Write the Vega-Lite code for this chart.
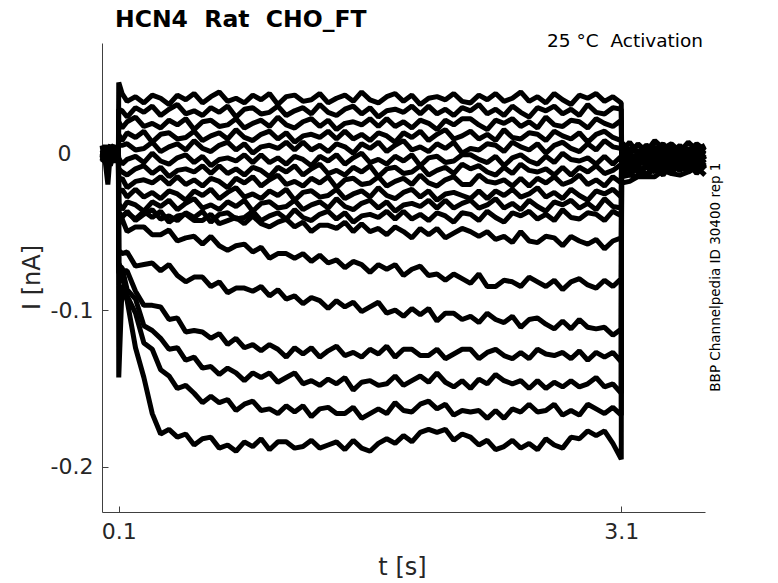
{
"$schema":"https://vega.github.io/schema/vega-lite/v6.json",
"width":603,"height":469,
"autosize":{"type":"none"},
"padding":{"left":102,"top":43,"right":73,"bottom":71},
"background":"white",
"config":{"view":{"stroke":null},"font":"DejaVu Sans"},
"title":{"text":"HCN4\u00a0\u00a0Rat\u00a0\u00a0CHO_FT","anchor":"start","frame":"group","dx":13,"dy":33,"offset":15,"fontSize":23.5,"fontWeight":"bold","font":"DejaVu Sans","color":"black","baseline":"alphabetic"},
"layer":[
{
"data":{"values":[
{"t":0,"a":0.002,"b":-0.003,"c":0.004,"d":-0.001,"e":0,"f":0.003,"g":-0.005,"h":0.001,"i":-0.002,"j":0.005,"k":-0.004,"l":0.002,"m":0,"n":-0.006,"o":0.003,"p":-0.001,"q":0.001,"r":-0.003},
{"t":0.02,"a":-0.003,"b":0.004,"c":-0.001,"d":0.002,"e":-0.005,"f":0.001,"g":0.003,"h":-0.002,"i":0.005,"j":-0.004,"k":0,"l":-0.001,"m":0.004,"n":-0.003,"o":0.002,"p":-0.006,"q":-0.002,"r":0.003},
{"t":0.035,"a":0.004,"b":-0.002,"c":0.001,"d":-0.006,"e":0.003,"f":-0.001,"g":-0.003,"h":0.005,"i":-0.004,"j":0.002,"k":-0.005,"l":0.003,"m":-0.014,"n":0.001,"o":-0.002,"p":-0.02,"q":0.004,"r":-0.001},
{"t":0.05,"a":-0.001,"b":0.003,"c":-0.004,"d":0.002,"e":0.005,"f":-0.003,"g":0.001,"h":-0.005,"i":0,"j":-0.002,"k":0.004,"l":-0.006,"m":0.002,"n":-0.008,"o":0.003,"p":0.001,"q":-0.004,"r":0.002},
{"t":0.07,"a":0.003,"b":-0.004,"c":0.002,"d":-0.001,"e":-0.003,"f":0.004,"g":-0.002,"h":0.001,"i":-0.005,"j":0.003,"k":-0.001,"l":0.002,"m":-0.004,"n":0,"o":0.005,"p":-0.003,"q":0.001,"r":-0.006},
{"t":0.085,"a":-0.002,"b":0.001,"c":-0.003,"d":0.004,"e":0,"f":-0.005,"g":0.003,"h":-0.001,"i":0.002,"j":-0.004,"k":0.005,"l":-0.002,"m":0.001,"n":0.003,"o":-0.006,"p":0.002,"q":-0.001,"r":0.004},
{"t":0.098,"a":0.001,"b":-0.002,"c":0.003,"d":-0.003,"e":0.002,"f":0,"g":-0.004,"h":0.004,"i":-0.001,"j":0.001,"k":-0.003,"l":0.005,"m":-0.002,"n":-0.001,"o":0.002,"p":-0.005,"q":0.003,"r":-0.002},
{"t":0.1,"a":0.045,"b":0.028,"c":0.02,"d":0.012,"e":0.005,"f":-0.003,"g":-0.01,"h":-0.017,"i":-0.025,"j":-0.032,"k":-0.038,"l":-0.038,"m":-0.045,"n":-0.062,"o":-0.07,"p":-0.072,"q":-0.076,"r":-0.143},
{"t":0.12,"a":0.038,"b":0.027,"c":0.016,"d":0.008,"e":0.005,"f":-0.007,"g":-0.012,"h":-0.016,"i":-0.023,"j":-0.036,"k":-0.041,"l":-0.04,"m":-0.042,"n":-0.064,"o":-0.075,"p":-0.073,"q":-0.079,"r":-0.084},
{"t":0.15,"a":0.033,"b":0.023,"c":0.02,"d":0.013,"e":0.006,"f":-0.004,"g":-0.014,"h":-0.022,"i":-0.028,"j":-0.031,"k":-0.037,"l":-0.038,"m":-0.05,"n":-0.063,"o":-0.075,"p":-0.087,"q":-0.091,"r":-0.094},
{"t":0.2,"a":0.036,"b":0.029,"c":0.023,"d":0.01,"e":0.002,"f":-0.002,"g":-0.01,"h":-0.018,"i":-0.023,"j":-0.033,"k":-0.043,"l":-0.042,"m":-0.047,"n":-0.072,"o":-0.088,"p":-0.093,"q":-0.102,"r":-0.124},
{"t":0.25,"a":0.032,"b":0.026,"c":0.017,"d":0.014,"e":0.003,"f":-0.006,"g":-0.008,"h":-0.017,"i":-0.028,"j":-0.037,"k":-0.039,"l":-0.037,"m":-0.047,"n":-0.071,"o":-0.097,"p":-0.11,"q":-0.121,"r":-0.143},
{"t":0.3,"a":0.037,"b":0.03,"c":0.019,"d":0.007,"e":0.007,"f":0,"g":-0.013,"h":-0.019,"i":-0.025,"j":-0.031,"k":-0.036,"l":-0.041,"m":-0.052,"n":-0.07,"o":-0.097,"p":-0.113,"q":-0.125,"r":-0.166},
{"t":0.35,"a":0.035,"b":0.024,"c":0.016,"d":0.012,"e":0.001,"f":-0.005,"g":-0.009,"h":-0.015,"i":-0.029,"j":-0.034,"k":-0.042,"l":-0.037,"m":-0.052,"n":-0.075,"o":-0.098,"p":-0.118,"q":-0.138,"r":-0.179},
{"t":0.4,"a":0.031,"b":0.028,"c":0.021,"d":0.013,"e":0.004,"f":-0.007,"g":-0.015,"h":-0.02,"i":-0.024,"j":-0.03,"k":-0.04,"l":-0.044,"m":-0.049,"n":-0.071,"o":-0.106,"p":-0.125,"q":-0.142,"r":-0.176},
{"t":0.45,"a":0.037,"b":0.031,"c":0.018,"d":0.009,"e":0.006,"f":-0.003,"g":-0.011,"h":-0.015,"i":-0.026,"j":-0.036,"k":-0.043,"l":-0.04,"m":-0.056,"n":-0.078,"o":-0.105,"p":-0.124,"q":-0.15,"r":-0.181},
{"t":0.5,"a":0.034,"b":0.025,"c":0.022,"d":0.01,"e":0.002,"f":-0.001,"g":-0.01,"h":-0.02,"i":-0.03,"j":-0.032,"k":-0.038,"l":-0.039,"m":-0.054,"n":-0.082,"o":-0.114,"p":-0.132,"q":-0.148,"r":-0.179},
{"t":0.55,"a":0.038,"b":0.027,"c":0.015,"d":0.014,"e":0.008,"f":-0.006,"g":-0.012,"h":-0.017,"i":-0.024,"j":-0.029,"k":-0.041,"l":-0.043,"m":-0.053,"n":-0.079,"o":-0.113,"p":-0.13,"q":-0.153,"r":-0.186},
{"t":0.6,"a":0.032,"b":0.024,"c":0.02,"d":0.008,"e":0.003,"f":-0.002,"g":-0.008,"h":-0.021,"i":-0.027,"j":-0.035,"k":-0.037,"l":-0.043,"m":-0.058,"n":-0.079,"o":-0.114,"p":-0.137,"q":-0.159,"r":-0.182},
{"t":0.65,"a":0.036,"b":0.029,"c":0.021,"d":0.011,"e":0.001,"f":-0.008,"g":-0.013,"h":-0.016,"i":-0.023,"j":-0.033,"k":-0.044,"l":-0.039,"m":-0.053,"n":-0.085,"o":-0.118,"p":-0.136,"q":-0.155,"r":-0.181},
{"t":0.7,"a":0.039,"b":0.026,"c":0.017,"d":0.013,"e":0.005,"f":-0.004,"g":-0.008,"h":-0.018,"i":-0.029,"j":-0.036,"k":-0.039,"l":-0.045,"m":-0.059,"n":-0.082,"o":-0.115,"p":-0.141,"q":-0.159,"r":-0.188},
{"t":0.75,"a":0.033,"b":0.03,"c":0.018,"d":0.009,"e":0.007,"f":-0.003,"g":-0.013,"h":-0.022,"i":-0.025,"j":-0.031,"k":-0.038,"l":-0.043,"m":-0.062,"n":-0.089,"o":-0.122,"p":-0.137,"q":-0.157,"r":-0.186},
{"t":0.8,"a":0.035,"b":0.023,"c":0.022,"d":0.015,"e":0.002,"f":-0.005,"g":-0.01,"h":-0.016,"i":-0.022,"j":-0.034,"k":-0.042,"l":-0.041,"m":-0.059,"n":-0.086,"o":-0.118,"p":-0.14,"q":-0.164,"r":-0.19},
{"t":0.85,"a":0.032,"b":0.028,"c":0.016,"d":0.01,"e":0.006,"f":-0.001,"g":-0.014,"h":-0.019,"i":-0.028,"j":-0.03,"k":-0.041,"l":-0.045,"m":-0.058,"n":-0.086,"o":-0.124,"p":-0.145,"q":-0.16,"r":-0.184},
{"t":0.9,"a":0.037,"b":0.029,"c":0.019,"d":0.008,"e":0,"f":-0.006,"g":-0.009,"h":-0.015,"i":-0.026,"j":-0.037,"k":-0.037,"l":-0.04,"m":-0.063,"n":-0.088,"o":-0.122,"p":-0.14,"q":-0.158,"r":-0.187},
{"t":0.95,"a":0.034,"b":0.025,"c":0.021,"d":0.012,"e":0.004,"f":-0.001,"g":-0.011,"h":-0.021,"i":-0.029,"j":-0.032,"k":-0.043,"l":-0.045,"m":-0.06,"n":-0.085,"o":-0.126,"p":-0.143,"q":-0.164,"r":-0.182},
{"t":1.0,"a":0.038,"b":0.026,"c":0.017,"d":0.014,"e":0.005,"f":-0.006,"g":-0.015,"h":-0.017,"i":-0.024,"j":-0.031,"k":-0.04,"l":-0.047,"m":-0.067,"n":-0.091,"o":-0.122,"p":-0.14,"q":-0.163,"r":-0.189},
{"t":1.05,"a":0.031,"b":0.03,"c":0.023,"d":0.009,"e":0.003,"f":-0.003,"g":-0.009,"h":-0.014,"i":-0.027,"j":-0.035,"k":-0.038,"l":-0.044,"m":-0.064,"n":-0.087,"o":-0.125,"p":-0.146,"q":-0.166,"r":-0.184},
{"t":1.1,"a":0.036,"b":0.024,"c":0.018,"d":0.013,"e":0.007,"f":-0.007,"g":-0.012,"h":-0.02,"i":-0.023,"j":-0.034,"k":-0.042,"l":-0.042,"m":-0.064,"n":-0.093,"o":-0.13,"p":-0.143,"q":-0.161,"r":-0.184},
{"t":1.15,"a":0.037,"b":0.027,"c":0.016,"d":0.007,"e":0.002,"f":-0.002,"g":-0.008,"h":-0.018,"i":-0.03,"j":-0.03,"k":-0.036,"l":-0.047,"m":-0.067,"n":-0.091,"o":-0.124,"p":-0.14,"q":-0.165,"r":-0.188},
{"t":1.2,"a":0.033,"b":0.029,"c":0.02,"d":0.011,"e":0.007,"f":-0.004,"g":-0.014,"h":-0.021,"i":-0.025,"j":-0.036,"k":-0.041,"l":-0.044,"m":-0.064,"n":-0.096,"o":-0.128,"p":-0.147,"q":-0.161,"r":-0.187},
{"t":1.25,"a":0.034,"b":0.025,"c":0.022,"d":0.012,"e":0.002,"f":-0.008,"g":-0.01,"h":-0.016,"i":-0.024,"j":-0.033,"k":-0.043,"l":-0.05,"m":-0.069,"n":-0.092,"o":-0.124,"p":-0.145,"q":-0.168,"r":-0.183},
{"t":1.3,"a":0.038,"b":0.031,"c":0.017,"d":0.01,"e":0.005,"f":-0.002,"g":-0.007,"h":-0.019,"i":-0.028,"j":-0.031,"k":-0.039,"l":-0.046,"m":-0.065,"n":-0.094,"o":-0.13,"p":-0.148,"q":-0.163,"r":-0.188},
{"t":1.35,"a":0.032,"b":0.026,"c":0.021,"d":0.014,"e":0.001,"f":-0.005,"g":-0.013,"h":-0.015,"i":-0.027,"j":-0.035,"k":-0.037,"l":-0.046,"m":-0.07,"n":-0.099,"o":-0.126,"p":-0.144,"q":-0.162,"r":-0.186},
{"t":1.4,"a":0.035,"b":0.024,"c":0.015,"d":0.009,"e":0.006,"f":-0.001,"g":-0.011,"h":-0.022,"i":-0.023,"j":-0.029,"k":-0.042,"l":-0.048,"m":-0.068,"n":-0.094,"o":-0.123,"p":-0.147,"q":-0.166,"r":-0.184},
{"t":1.45,"a":0.037,"b":0.028,"c":0.019,"d":0.014,"e":0.004,"f":-0.007,"g":-0.014,"h":-0.017,"i":-0.029,"j":-0.034,"k":-0.038,"l":-0.044,"m":-0.073,"n":-0.098,"o":-0.129,"p":-0.143,"q":-0.166,"r":-0.189},
{"t":1.5,"a":0.033,"b":0.03,"c":0.02,"d":0.009,"e":0,"f":-0.003,"g":-0.009,"h":-0.016,"i":-0.026,"j":-0.036,"k":-0.044,"l":-0.05,"m":-0.069,"n":-0.095,"o":-0.127,"p":-0.151,"q":-0.162,"r":-0.183},
{"t":1.55,"a":0.039,"b":0.025,"c":0.018,"d":0.012,"e":0.006,"f":0,"g":-0.012,"h":-0.02,"i":-0.024,"j":-0.032,"k":-0.04,"l":-0.045,"m":-0.071,"n":-0.101,"o":-0.13,"p":-0.146,"q":-0.169,"r":-0.188},
{"t":1.6,"a":0.034,"b":0.029,"c":0.022,"d":0.008,"e":0.003,"f":-0.006,"g":-0.008,"h":-0.019,"i":-0.028,"j":-0.03,"k":-0.039,"l":-0.05,"m":-0.076,"n":-0.098,"o":-0.125,"p":-0.145,"q":-0.166,"r":-0.19},
{"t":1.65,"a":0.032,"b":0.023,"c":0.017,"d":0.013,"e":0.007,"f":-0.004,"g":-0.015,"h":-0.015,"i":-0.022,"j":-0.035,"k":-0.041,"l":-0.048,"m":-0.071,"n":-0.095,"o":-0.128,"p":-0.148,"q":-0.163,"r":-0.185},
{"t":1.7,"a":0.036,"b":0.027,"c":0.022,"d":0.011,"e":0.001,"f":-0.007,"g":-0.01,"h":-0.021,"i":-0.027,"j":-0.031,"k":-0.037,"l":-0.052,"m":-0.074,"n":-0.102,"o":-0.123,"p":-0.147,"q":-0.166,"r":-0.182},
{"t":1.75,"a":0.038,"b":0.028,"c":0.017,"d":0.007,"e":0.005,"f":-0.002,"g":-0.009,"h":-0.018,"i":-0.029,"j":-0.037,"k":-0.042,"l":-0.047,"m":-0.071,"n":-0.1,"o":-0.13,"p":-0.142,"q":-0.159,"r":-0.185},
{"t":1.8,"a":0.033,"b":0.026,"c":0.02,"d":0.013,"e":0.008,"f":-0.005,"g":-0.013,"h":-0.016,"i":-0.025,"j":-0.033,"k":-0.037,"l":-0.05,"m":-0.078,"n":-0.104,"o":-0.125,"p":-0.148,"q":-0.164,"r":-0.18},
{"t":1.85,"a":0.037,"b":0.03,"c":0.016,"d":0.01,"e":0.002,"f":-0.001,"g":-0.012,"h":-0.02,"i":-0.023,"j":-0.032,"k":-0.042,"l":-0.054,"m":-0.074,"n":-0.099,"o":-0.125,"p":-0.145,"q":-0.165,"r":-0.184},
{"t":1.9,"a":0.031,"b":0.025,"c":0.021,"d":0.014,"e":0.004,"f":-0.008,"g":-0.008,"h":-0.014,"i":-0.028,"j":-0.034,"k":-0.039,"l":-0.048,"m":-0.072,"n":-0.103,"o":-0.129,"p":-0.142,"q":-0.16,"r":-0.178},
{"t":1.95,"a":0.035,"b":0.03,"c":0.019,"d":0.008,"e":0.001,"f":-0.003,"g":-0.014,"h":-0.019,"i":-0.024,"j":-0.03,"k":-0.043,"l":-0.052,"m":-0.078,"n":-0.099,"o":-0.129,"p":-0.146,"q":-0.158,"r":-0.176},
{"t":2.0,"a":0.036,"b":0.025,"c":0.015,"d":0.012,"e":0.006,"f":-0.002,"g":-0.011,"h":-0.021,"i":-0.03,"j":-0.035,"k":-0.038,"l":-0.048,"m":-0.077,"n":-0.107,"o":-0.125,"p":-0.14,"q":-0.163,"r":-0.178},
{"t":2.05,"a":0.034,"b":0.028,"c":0.021,"d":0.015,"e":0.003,"f":-0.006,"g":-0.009,"h":-0.017,"i":-0.026,"j":-0.03,"k":-0.04,"l":-0.054,"m":-0.081,"n":-0.102,"o":-0.131,"p":-0.146,"q":-0.16,"r":-0.176},
{"t":2.1,"a":0.038,"b":0.024,"c":0.018,"d":0.009,"e":0.007,"f":-0.005,"g":-0.013,"h":-0.015,"i":-0.025,"j":-0.035,"k":-0.044,"l":-0.051,"m":-0.077,"n":-0.102,"o":-0.128,"p":-0.149,"q":-0.167,"r":-0.183},
{"t":2.15,"a":0.033,"b":0.029,"c":0.022,"d":0.011,"e":0,"f":-0.001,"g":-0.007,"h":-0.02,"i":-0.027,"j":-0.032,"k":-0.038,"l":-0.048,"m":-0.08,"n":-0.106,"o":-0.125,"p":-0.145,"q":-0.164,"r":-0.179},
{"t":2.2,"a":0.032,"b":0.027,"c":0.022,"d":0.014,"e":0.003,"f":-0.001,"g":-0.01,"h":-0.02,"i":-0.029,"j":-0.03,"k":-0.039,"l":-0.05,"m":-0.083,"n":-0.104,"o":-0.125,"p":-0.15,"q":-0.165,"r":-0.181},
{"t":2.25,"a":0.037,"b":0.031,"c":0.018,"d":0.009,"e":0.002,"f":-0.004,"g":-0.008,"h":-0.014,"i":-0.024,"j":-0.035,"k":-0.043,"l":-0.053,"m":-0.077,"n":-0.108,"o":-0.131,"p":-0.144,"q":-0.164,"r":-0.186},
{"t":2.3,"a":0.034,"b":0.025,"c":0.015,"d":0.012,"e":0.006,"f":-0.006,"g":-0.012,"h":-0.018,"i":-0.029,"j":-0.033,"k":-0.037,"l":-0.05,"m":-0.085,"n":-0.102,"o":-0.127,"p":-0.147,"q":-0.169,"r":-0.183},
{"t":2.35,"a":0.038,"b":0.028,"c":0.021,"d":0.008,"e":0.005,"f":-0.002,"g":-0.014,"h":-0.019,"i":-0.024,"j":-0.029,"k":-0.041,"l":-0.055,"m":-0.085,"n":-0.106,"o":-0.125,"p":-0.141,"q":-0.164,"r":-0.189},
{"t":2.4,"a":0.033,"b":0.024,"c":0.019,"d":0.015,"e":0.001,"f":-0.008,"g":-0.009,"h":-0.017,"i":-0.027,"j":-0.035,"k":-0.044,"l":-0.053,"m":-0.081,"n":-0.108,"o":-0.129,"p":-0.145,"q":-0.169,"r":-0.187},
{"t":2.45,"a":0.035,"b":0.03,"c":0.022,"d":0.01,"e":0.007,"f":-0.003,"g":-0.013,"h":-0.021,"i":-0.023,"j":-0.032,"k":-0.038,"l":-0.057,"m":-0.082,"n":-0.104,"o":-0.131,"p":-0.147,"q":-0.163,"r":-0.183},
{"t":2.5,"a":0.039,"b":0.026,"c":0.017,"d":0.009,"e":0.004,"f":-0.001,"g":-0.007,"h":-0.016,"i":-0.028,"j":-0.036,"k":-0.04,"l":-0.05,"m":-0.085,"n":-0.111,"o":-0.127,"p":-0.145,"q":-0.165,"r":-0.188},
{"t":2.55,"a":0.033,"b":0.023,"c":0.02,"d":0.013,"e":0.002,"f":-0.005,"g":-0.011,"h":-0.021,"i":-0.026,"j":-0.03,"k":-0.037,"l":-0.056,"m":-0.079,"n":-0.106,"o":-0.131,"p":-0.15,"q":-0.16,"r":-0.185},
{"t":2.6,"a":0.036,"b":0.029,"c":0.016,"d":0.012,"e":0.006,"f":-0.007,"g":-0.012,"h":-0.016,"i":-0.022,"j":-0.034,"k":-0.042,"l":-0.057,"m":-0.082,"n":-0.105,"o":-0.125,"p":-0.145,"q":-0.165,"r":-0.189},
{"t":2.65,"a":0.032,"b":0.027,"c":0.023,"d":0.008,"e":0,"f":-0.002,"g":-0.01,"h":-0.019,"i":-0.028,"j":-0.037,"k":-0.039,"l":-0.053,"m":-0.085,"n":-0.109,"o":-0.128,"p":-0.15,"q":-0.164,"r":-0.182},
{"t":2.7,"a":0.038,"b":0.03,"c":0.018,"d":0.014,"e":0.005,"f":-0.006,"g":-0.014,"h":-0.015,"i":-0.025,"j":-0.031,"k":-0.043,"l":-0.054,"m":-0.081,"n":-0.112,"o":-0.129,"p":-0.146,"q":-0.16,"r":-0.186},
{"t":2.75,"a":0.034,"b":0.025,"c":0.017,"d":0.011,"e":0.007,"f":0,"g":-0.009,"h":-0.02,"i":-0.029,"j":-0.033,"k":-0.036,"l":-0.059,"m":-0.087,"n":-0.107,"o":-0.127,"p":-0.149,"q":-0.167,"r":-0.188},
{"t":2.8,"a":0.031,"b":0.028,"c":0.021,"d":0.009,"e":0.003,"f":-0.004,"g":-0.014,"h":-0.018,"i":-0.023,"j":-0.03,"k":-0.041,"l":-0.053,"m":-0.082,"n":-0.112,"o":-0.131,"p":-0.145,"q":-0.164,"r":-0.181},
{"t":2.85,"a":0.037,"b":0.024,"c":0.02,"d":0.013,"e":0.001,"f":-0.005,"g":-0.009,"h":-0.014,"i":-0.027,"j":-0.035,"k":-0.042,"l":-0.056,"m":-0.08,"n":-0.106,"o":-0.126,"p":-0.149,"q":-0.167,"r":-0.182},
{"t":2.9,"a":0.035,"b":0.031,"c":0.016,"d":0.007,"e":0.006,"f":-0.003,"g":-0.012,"h":-0.02,"i":-0.03,"j":-0.032,"k":-0.038,"l":-0.058,"m":-0.084,"n":-0.111,"o":-0.132,"p":-0.147,"q":-0.16,"r":-0.177},
{"t":2.95,"a":0.038,"b":0.026,"c":0.022,"d":0.012,"e":0.002,"f":-0.007,"g":-0.008,"h":-0.017,"i":-0.024,"j":-0.036,"k":-0.039,"l":-0.055,"m":-0.086,"n":-0.112,"o":-0.127,"p":-0.143,"q":-0.163,"r":-0.18},
{"t":3.0,"a":0.033,"b":0.025,"c":0.019,"d":0.014,"e":0.008,"f":-0.002,"g":-0.013,"h":-0.021,"i":-0.026,"j":-0.029,"k":-0.043,"l":-0.061,"m":-0.081,"n":-0.111,"o":-0.13,"p":-0.149,"q":-0.166,"r":-0.177},
{"t":3.05,"a":0.036,"b":0.029,"c":0.017,"d":0.01,"e":0.004,"f":-0.007,"g":-0.011,"h":-0.015,"i":-0.023,"j":-0.034,"k":-0.037,"l":-0.056,"m":-0.085,"n":-0.116,"o":-0.127,"p":-0.147,"q":-0.162,"r":-0.185},
{"t":3.1,"a":0.032,"b":0.028,"c":0.021,"d":0.008,"e":0.003,"f":-0.002,"g":-0.007,"h":-0.019,"i":-0.028,"j":-0.035,"k":-0.04,"l":-0.054,"m":-0.08,"n":-0.112,"o":-0.133,"p":-0.153,"q":-0.167,"r":-0.195},
{"t":3.102,"a":0.007,"b":0.001,"c":0.003,"d":-0.002,"e":0.002,"f":-0.001,"g":-0.006,"h":-0.001,"i":-0.005,"j":-0.002,"k":-0.009,"l":-0.006,"m":-0.004,"n":-0.012,"o":-0.011,"p":-0.015,"q":-0.011,"r":-0.019},
{"t":3.15,"a":0.002,"b":0.007,"c":-0.001,"d":0.003,"e":-0.001,"f":0.002,"g":-0.001,"h":-0.007,"i":-0.002,"j":-0.007,"k":-0.003,"l":-0.008,"m":-0.011,"n":-0.009,"o":-0.007,"p":-0.014,"q":-0.014,"r":-0.018},
{"t":3.2,"a":0.005,"b":0,"c":0.006,"d":0,"e":-0.003,"f":0.001,"g":-0.004,"h":0,"i":-0.008,"j":-0.004,"k":-0.008,"l":-0.002,"m":-0.007,"n":-0.012,"o":-0.008,"p":-0.015,"q":-0.009,"r":-0.015},
{"t":3.25,"a":0.001,"b":0.005,"c":0.001,"d":0.005,"e":0.001,"f":-0.005,"g":0.001,"h":-0.005,"i":-0.003,"j":-0.008,"k":-0.002,"l":-0.008,"m":-0.004,"n":-0.008,"o":-0.014,"p":-0.008,"q":-0.015,"r":-0.015},
{"t":3.3,"a":0.008,"b":0.002,"c":0.004,"d":-0.002,"e":-0.002,"f":0,"g":-0.006,"h":0.001,"i":-0.005,"j":-0.003,"k":-0.008,"l":-0.005,"m":-0.009,"n":-0.012,"o":-0.006,"p":-0.011,"q":-0.009,"r":-0.015},
{"t":3.35,"a":0.003,"b":0.006,"c":-0.002,"d":0.003,"e":0.003,"f":-0.003,"g":-0.001,"h":-0.006,"i":0,"j":-0.005,"k":-0.003,"l":-0.01,"m":-0.006,"n":-0.005,"o":-0.011,"p":-0.006,"q":-0.014,"r":-0.011},
{"t":3.4,"a":0.006,"b":-0.001,"c":0.005,"d":0,"e":-0.002,"f":0.003,"g":-0.005,"h":-0.001,"i":-0.006,"j":-0.001,"k":-0.006,"l":-0.004,"m":-0.01,"n":-0.009,"o":-0.008,"p":-0.012,"q":-0.006,"r":-0.013},
{"t":3.45,"a":0.001,"b":0.004,"c":0,"d":0.005,"e":0.002,"f":-0.004,"g":0,"h":-0.004,"i":-0.001,"j":-0.008,"k":-0.004,"l":-0.007,"m":-0.003,"n":-0.005,"o":-0.011,"p":-0.008,"q":-0.011,"r":-0.014},
{"t":3.5,"a":0.007,"b":0.001,"c":0.003,"d":-0.002,"e":-0.004,"f":0.001,"g":-0.003,"h":0,"i":-0.006,"j":-0.003,"k":-0.008,"l":-0.001,"m":-0.007,"n":-0.009,"o":-0.006,"p":-0.012,"q":-0.006,"r":-0.012},
{"t":3.55,"a":0.002,"b":0.006,"c":-0.001,"d":0.002,"e":0.002,"f":-0.002,"g":0.002,"h":-0.005,"i":-0.003,"j":-0.007,"k":-0.003,"l":-0.006,"m":-0.009,"n":-0.003,"o":-0.009,"p":-0.006,"q":-0.013,"r":-0.009},
{"t":3.6,"a":0.005,"b":0.002,"c":0.004,"d":-0.001,"e":-0.003,"f":0.002,"g":-0.004,"h":-0.002,"i":-0.008,"j":-0.002,"k":-0.006,"l":-0.002,"m":-0.004,"n":-0.01,"o":-0.007,"p":-0.01,"q":-0.007,"r":-0.014}
]},
"transform":[{"fold":["a","b","c","d","e","f","g","h","i","j","k","l","m","n","o","p","q","r"],"as":["sweep","I"]}],
"mark":{"type":"line","color":"black","strokeWidth":5,"strokeJoin":"bevel"},
"encoding":{
"x":{"field":"t","type":"quantitative","scale":{"domain":[0,3.6],"nice":false,"zero":false},
"axis":{"title":"t [s]","values":[0.1,3.1],"grid":false,"tickSize":-6,"labelPadding":15,"labelFontSize":22,"titleFontSize":24,"titleFontWeight":"normal","labelColor":"#262626","titleColor":"#262626","domainColor":"#404040","tickColor":"#404040","titleX":300,"titleY":55,"titleBaseline":"middle","labelFlush":false,"labelOverlap":false}},
"y":{"field":"I","type":"quantitative","scale":{"domain":[-0.2287,0.0702],"nice":false,"zero":false},
"axis":{"title":"I [nA]","values":[-0.2,-0.1,0],"labelExpr":"datum.value == 0 ? '0' : '-' + format(-datum.value, '.1f')","grid":false,"tickSize":-6,"labelPadding":{"condition":{"test":"datum.value == 0","value":37},"value":15},"labelFontSize":22,"titleFontSize":24,"titleFontWeight":"normal","labelColor":"#262626","titleColor":"#262626","domainColor":"#404040","tickColor":"#404040","titleX":-70,"titleY":234,"titleBaseline":"middle","titleAlign":"center","labelFlush":false,"labelOverlap":false}},
"detail":{"field":"sweep"}
}
},
{
"data":{"values":[{"note":"25 °C\u00a0\u00a0Activation"}]},
"mark":{"type":"text","align":"right","baseline":"alphabetic","dx":-2,"dy":4,"fontSize":18.5,"font":"DejaVu Sans","color":"black"},
"encoding":{"x":{"datum":3.6,"type":"quantitative"},"y":{"datum":0.0702,"type":"quantitative"},"text":{"field":"note"}}
},
{
"data":{"values":[{"note":"BBP Channelpedia ID 30400 rep 1"}]},
"mark":{"type":"text","angle":270,"align":"center","baseline":"middle","dy":11,"fontSize":13.5,"font":"DejaVu Sans","color":"black"},
"encoding":{"x":{"datum":3.6,"type":"quantitative"},"y":{"datum":-0.079,"type":"quantitative"},"text":{"field":"note"}}
}
]
}
